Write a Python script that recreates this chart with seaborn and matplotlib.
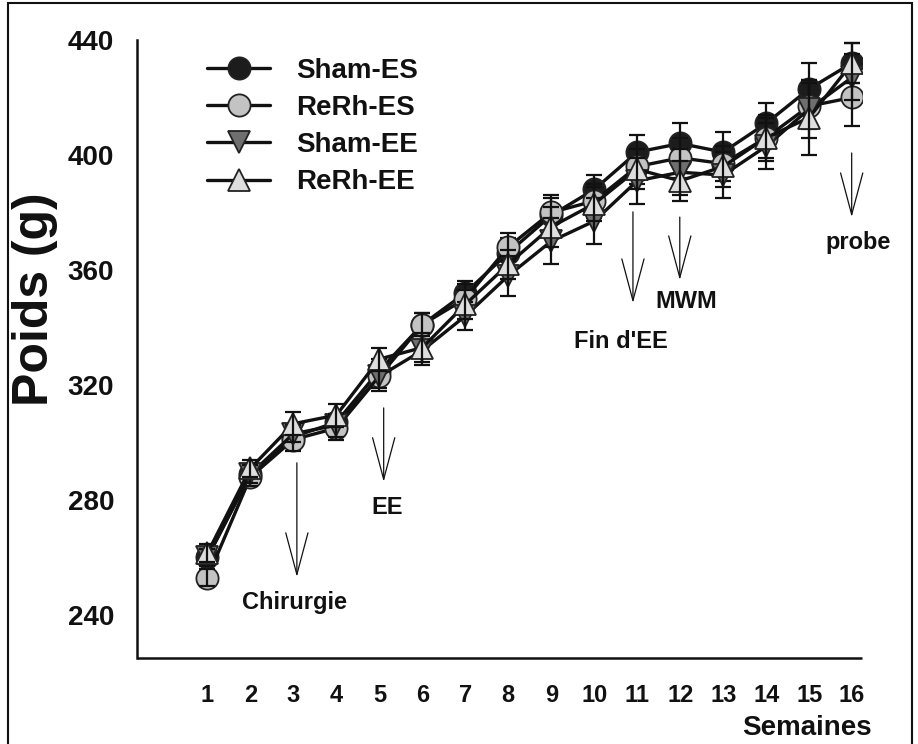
import numpy as np
import pandas as pd
import seaborn as sns
import matplotlib
matplotlib.use("Agg")
import matplotlib.pyplot as plt
from matplotlib.patches import Rectangle

# ---------------- data ----------------
weeks = list(range(1, 17))
groups = ["Sham-ES", "ReRh-ES", "Sham-EE", "ReRh-EE"]

sham_es = [260, 289, 302, 307, 325, 341, 352, 366, 379, 388, 401, 404, 401, 411, 423, 432]
rerh_es = [253, 288, 301, 305, 323, 341, 350, 368, 380, 384, 396, 399, 397, 406, 417, 420]
sham_ee = [260, 289, 303, 306, 323, 332, 344, 358, 370, 377, 391, 394, 393, 403, 416, 427]
rerh_ee = [261.5, 291, 306.5, 309.5, 329, 333, 348, 362, 375, 383, 395, 391, 396, 406, 413, 432]

sham_es_err = [3, 3, 3, 3, 4, 4, 4, 5, 6, 5, 6, 7, 7, 7, 9, 7]
rerh_es_err = [3, 3, 4, 4, 4, 4, 5, 5, 6, 6, 6, 7, 6, 7, 8, 10]
sham_ee_err = [3, 3, 3, 4, 5, 5, 5, 7, 8, 8, 8, 8, 8, 8, 10, 8]
rerh_ee_err = [3, 3, 4, 4, 4, 5, 5, 5, 7, 6, 7, 7, 7, 8, 13, 7]

y_ticks = [240, 280, 320, 360, 400, 440]

events = ["Chirurgie", "EE", "Fin d'EE", "MWM", "probe"]
event_week = [3.08, 5.1, 10.9, 11.99, 15.99]
event_top = [292.9, 312.0, 380.2, 378.4, 400.7]
event_bottom = [253.2, 286.3, 348.5, 356.5, 378.4]
label_x = [3.03, 5.17, 10.62, 12.13, 16.13]
label_y = [244.2, 277.2, 335.0, 348.9, 369.4]

values = [sham_es, rerh_es, sham_ee, rerh_ee]
errors = [sham_es_err, rerh_es_err, sham_ee_err, rerh_ee_err]

df = pd.DataFrame({
    "Semaines": weeks * len(groups),
    "Poids": sum(values, []),
    "err": sum(errors, []),
    "Groupe": sum([[g] * len(weeks) for g in groups], []),
})

# ---------------- style ----------------
sns.set_style("white")
plt.rcParams["font.family"] = ["Liberation Sans", "DejaVu Sans"]
plt.rcParams["font.weight"] = "bold"

markers = {"Sham-ES": "o", "ReRh-ES": "o", "Sham-EE": "v", "ReRh-EE": "^"}
faces = {"Sham-ES": "#1c1c1c", "ReRh-ES": "#c3c3c3", "Sham-EE": "#6f6f6f", "ReRh-EE": "#dedede"}
edge = "#222222"

fig = plt.figure(figsize=(9.18, 7.44), dpi=100)
W, H = 918, 744
ax = fig.add_axes([137 / W, 1 - 658 / H, (862 - 137) / W, (658 - 40) / H])

handles = []
for i, g in enumerate(groups):
    sub = df[df["Groupe"] == g]
    n_before = len(ax.lines)
    sns.lineplot(data=sub, x="Semaines", y="Poids", ax=ax, color="#111111",
                 lw=2.4, marker=markers[g], markersize=16,
                 markerfacecolor=faces[g], markeredgecolor=edge,
                 markeredgewidth=1.3, zorder=3 + 2 * i, legend=False,
                 errorbar=None)
    handles.append(ax.lines[n_before])
    ax.errorbar(sub["Semaines"], sub["Poids"], yerr=sub["err"], fmt="none",
                ecolor="#111111", elinewidth=1.6, capsize=6, capthick=1.6,
                zorder=4 + 2 * i)

ax.set_xlim(-0.64, 16.23)
ax.set_ylim(225, 440)
ax.set_xticks(weeks)
ax.set_xticklabels([str(w) for w in weeks])
ax.set_yticks(y_ticks)
ax.set_yticklabels([str(t) for t in y_ticks])

for s in ["top", "right"]:
    ax.spines[s].set_visible(False)
ax.spines["left"].set_linewidth(1.8)
ax.spines["left"].set_color("#111111")
ax.spines["bottom"].set_position(("outward", 2.5))
ax.spines["bottom"].set_linewidth(0)
ax.plot([0, 1], [0, 0], transform=ax.transAxes, color="#111111", lw=1.8,
        clip_on=False, solid_capstyle="butt")

ax.tick_params(axis="y", direction="out", length=6.5, width=1.5, pad=10,
               labelsize=20, colors="#111111")
ax.tick_params(axis="x", direction="out", length=5, width=1.5, pad=11,
               labelsize=17, colors="#111111")
for lab in ax.get_xticklabels() + ax.get_yticklabels():
    lab.set_fontweight("bold")

ax.set_xlabel("")
ax.set_ylabel("")
fig.text(35 / W, 1 - 299 / H, "Poids (g)", rotation=90, fontsize=36,
         fontweight="bold", ha="center", va="center", color="#111111")
fig.text(872 / W, 1 - 728 / H, "Semaines", fontsize=20, fontweight="bold",
         ha="right", va="center", color="#111111")

# event arrows and labels
for name, xw, yt, yb, lx, ly in zip(events, event_week, event_top, event_bottom,
                                    label_x, label_y):
    ax.annotate("", xy=(xw, yb), xytext=(xw, yt),
                arrowprops=dict(arrowstyle="->,head_length=3.0,head_width=0.8",
                                mutation_scale=10, lw=0.9, color="#111111",
                                shrinkA=0, shrinkB=0))
    ax.text(lx, ly, name, fontsize=17, fontweight="bold", ha="center",
            va="center", color="#111111")

leg = ax.legend(handles=handles, labels=groups, loc="upper left",
                bbox_to_anchor=(207 / W, 1 - 58 / H),
                bbox_transform=fig.transFigure, frameon=False,
                fontsize=20, handlelength=2.27, handletextpad=0.95,
                labelspacing=0.4, borderpad=0, borderaxespad=0)
for t in leg.get_texts():
    t.set_fontweight("bold")
    t.set_color("#111111")

fig.patches.append(Rectangle((8 / W, -0.01), (912 - 8) / W, 1 - 3 / H + 0.01,
                             transform=fig.transFigure, fill=False,
                             edgecolor="#111111", lw=1.5))

fig.savefig("out.png", dpi=100)
